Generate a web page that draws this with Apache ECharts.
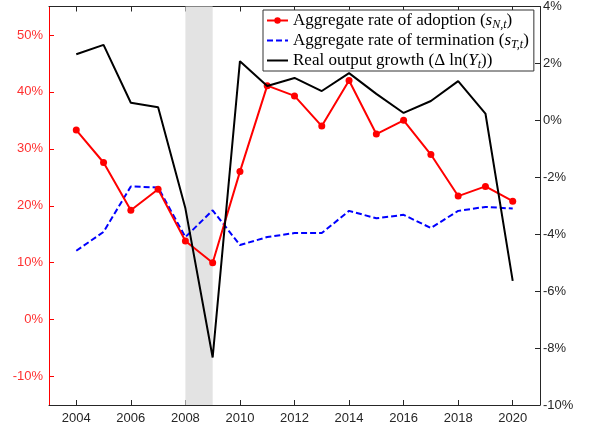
<!DOCTYPE html>
<html><head><meta charset="utf-8">
<script src="https://cdn.jsdelivr.net/npm/echarts@6/dist/echarts.min.js"></script>
<style>html,body{margin:0;padding:0;background:#fff}#c{width:590px;height:433px}</style>
</head><body><div id="c"></div>
<script>
const years = [2004,2005,2006,2007,2008,2009,2010,2011,2012,2013,2014,2015,2016,2017,2018,2019,2020];
const adoption = [33.3,27.6,19.2,22.9,13.8,10.0,26.0,41.1,39.3,34.0,42.0,32.6,35.0,29.0,21.7,23.4,20.8];
const termination = [12.1,15.4,23.4,23.2,14.5,19.2,13.1,14.5,15.2,15.2,19.1,17.8,18.4,16.1,19.1,19.8,19.5];
const outputGrowth = [2.32,2.65,0.62,0.46,-3.09,-8.33,2.08,1.21,1.49,1.03,1.66,0.93,0.26,0.68,1.38,0.24,-5.64];
const xTicks = [2004,2006,2008,2010,2012,2014,2016,2018,2020];
const leftTicks = [-10,0,10,20,30,40,50];
const recession = [2008,2009];

const pair = (xs, ys) => xs.map((x,i)=>[x, ys[i]]);
const chart = echarts.init(document.getElementById('c'), null, {renderer:'canvas'});
const axisCol = '#262626';
const rich = {
  n:{fontFamily:'Liberation Serif',fontSize:17,color:'#000',lineHeight:19},
  i:{fontFamily:'Liberation Serif',fontSize:17,fontStyle:'italic',color:'#000',lineHeight:19},
  s:{fontFamily:'Liberation Serif',fontSize:12,fontStyle:'italic',color:'#000',padding:[9,0,0,0]}
};
const names = ['Aggregate rate of adoption','Aggregate rate of termination','Real output growth'];
const legendFmt = {
  [names[0]]:'{n|Aggregate rate of adoption (}{i|s}{s|N,t}{n|)}',
  [names[1]]:'{n|Aggregate rate of termination (}{i|s}{s|T,t}{n|)}',
  [names[2]]:'{n|Real output growth (Δ ln(}{i|Y}{s|t}{n|))}'
};
chart.setOption({
  animation:false,
  grid:{left:49,right:50,top:4,bottom:28},
  legend:{
    left:263, top:10, orient:'vertical', itemGap:1, itemWidth:21, itemHeight:8,
    padding:[2,5,0,3], borderColor:'#333', borderWidth:1, backgroundColor:'#fff',
    data:[
      {name:names[0]},
      {name:names[1],itemStyle:{opacity:0}},
      {name:names[2],itemStyle:{opacity:0}}
    ],
    formatter:n=>legendFmt[n], textStyle:{rich:rich}
  },
  xAxis:[
    {type:'value',min:2003,max:2021,position:'bottom',
     axisLine:{onZero:false,lineStyle:{color:axisCol,width:1}},
     axisTick:{inside:true,length:5,customValues:xTicks,lineStyle:{color:axisCol}},
     axisLabel:{customValues:xTicks,formatter:v=>String(v),color:axisCol,fontFamily:'Liberation Sans',fontSize:13,margin:7},
     splitLine:{show:false}},
    {type:'value',min:2003,max:2021,position:'top',
     axisLine:{onZero:false,lineStyle:{color:axisCol,width:1}},
     axisTick:{inside:true,length:5,customValues:xTicks,lineStyle:{color:axisCol}},
     axisLabel:{show:false},splitLine:{show:false}}
  ],
  yAxis:[
    {type:'value',min:-15,max:55,position:'left',
     axisLine:{show:true,onZero:false,lineStyle:{color:'#ff0000',width:1}},
     axisTick:{show:true,inside:true,length:5,customValues:leftTicks,lineStyle:{color:'#ff0000'}},
     axisLabel:{customValues:leftTicks,formatter:'{value}%',color:'#ff3030',fontFamily:'Liberation Sans',fontSize:13,margin:6},
     splitLine:{show:false}},
    {type:'value',min:-10,max:4,interval:2,position:'right',
     axisLine:{show:true,onZero:false,lineStyle:{color:axisCol,width:1}},
     axisTick:{show:true,inside:true,length:5,lineStyle:{color:axisCol}},
     axisLabel:{formatter:'{value}%',color:axisCol,fontFamily:'Liberation Sans',fontSize:13,margin:3},
     splitLine:{show:false}}
  ],
  series:[
    {name:names[0],type:'line',xAxisIndex:0,yAxisIndex:0,data:pair(years,adoption),
     symbol:'circle',symbolSize:7,showAllSymbol:true,
     lineStyle:{color:'#ff0000',width:2},itemStyle:{color:'#ff0000'},z:4,
     markArea:{silent:true,itemStyle:{color:'#e3e3e3'},data:[[{xAxis:recession[0]},{xAxis:recession[1]}]]}},
    {name:names[1],type:'line',xAxisIndex:0,yAxisIndex:0,data:pair(years,termination),
     symbol:'none',lineStyle:{color:'#0000ff',width:2,type:[6,3]},itemStyle:{color:'#0000ff'},z:3},
    {name:names[2],type:'line',xAxisIndex:0,yAxisIndex:1,data:pair(years,outputGrowth),
     symbol:'none',lineStyle:{color:'#000',width:2},itemStyle:{color:'#000'},z:5}
  ]
});
</script></body></html>
